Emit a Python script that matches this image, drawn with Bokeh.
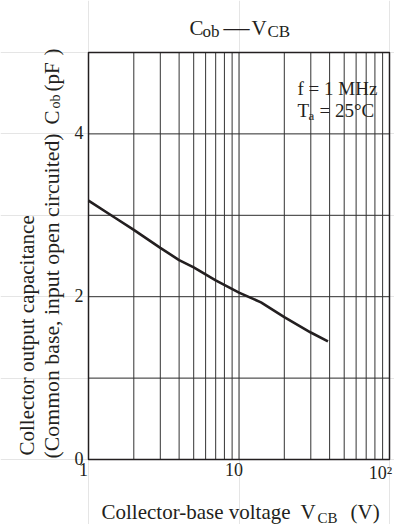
import math
from bokeh.plotting import figure
from bokeh.models import Label, Range1d
from bokeh.core.properties import value
from bokeh.embed import file_html
from bokeh.resources import INLINE

# ---- data ----
vcb = [1, 1.5, 2, 3, 4, 5, 7, 10, 14, 20, 30, 39]
cob = [3.18, 2.97, 2.82, 2.60, 2.45, 2.36, 2.20, 2.05, 1.93, 1.75, 1.56, 1.45]

x_lim = [1, 100]
y_lim = [0, 5]
x_ticks = [1, 10, 100]
x_tick_labels = ["1", "10", "10\u00b2"]
y_ticks = [0, 2, 4]
y_tick_labels = ["0", "2", "4"]
x_grid = [2, 3, 4, 5, 6, 7, 8, 9, 10, 20, 30, 40, 50, 60, 70, 80, 90]
y_grid = [1, 2, 3, 4]

FONT = "Liberation Serif"
INK = "#231f20"
W, H = 394, 524
# chart box inside the canvas (pixels)
CL, CR, CT, CB = 88, 389, 52, 459

dec = (CR - CL) / (math.log10(x_lim[1]) - math.log10(x_lim[0]))
x0 = 10 ** (math.log10(x_lim[0]) - CL / dec)
x1 = 10 ** (math.log10(x_lim[1]) + (W - CR) / dec)
ppu = (CB - CT) / (y_lim[1] - y_lim[0])
y0 = y_lim[0] - (H - CB) / ppu
y1 = y_lim[1] + CT / ppu

p = figure(width=W, height=H, title=None, x_axis_type="log",
           x_axis_location=None, y_axis_location=None,
           x_range=Range1d(x0, x1), y_range=Range1d(y0, y1),
           output_backend="svg", toolbar_location=None,
           min_border=0)
p.outline_line_color = None
p.background_fill_color = "white"
p.border_fill_color = "white"

# grid
p.segment(x0=x_grid, y0=[y_lim[0]] * len(x_grid), x1=x_grid, y1=[y_lim[1]] * len(x_grid),
          line_color="#333333", line_width=1)
p.segment(x0=[x_lim[0]] * len(y_grid), y0=y_grid, x1=[x_lim[1]] * len(y_grid), y1=y_grid,
          line_color="#333333", line_width=1)
# frame
p.quad(left=[x_lim[0]], right=[x_lim[1]], bottom=[y_lim[0]], top=[y_lim[1]],
       fill_color=None, line_color=INK, line_width=1.5)

# tick labels
p.text(x=x_ticks, y=[y_lim[0]] * len(x_ticks), text=x_tick_labels,
       x_offset=[-5, -5, -9], y_offset=3, text_align="center", text_baseline="top",
       text_font=value(FONT), text_font_size="18px", text_color=INK)
p.text(x=[x_lim[0]] * len(y_ticks), y=y_ticks, text=y_tick_labels,
       x_offset=-5, y_offset=-1, text_align="right", text_baseline="middle",
       text_font=value(FONT), text_font_size="18px", text_color=INK)

# curve
p.line(vcb, cob, line_color=INK, line_width=2.6)


def lab(text, px, py, size, angle=0.0):
    p.add_layout(Label(x=px, y=H - py, x_units="screen", y_units="screen",
                       text=text, text_font=FONT, text_font_size=f"{size}px",
                       text_color=INK, angle=angle, text_align="left",
                       text_baseline="alphabetic"))


# title  C_ob — V_CB
lab("C", 189, 27, 21)
lab("ob", 202, 31, 17)
lab("\u2014", 223, 27, 26)
lab("V", 251, 27, 21)
lab("CB", 267, 31, 17)

# conditions
lab("f = 1 MHz", 297, 88, 19)
lab("T", 297, 110, 19)
lab("a", 308, 115, 13)
lab("= 25\u00b0C", 319, 110, 19)

# y axis title (two lines, rotated)
r = math.pi / 2
lab("Collector output capacitance", 26, 455, 21, r)
lab("(Common base, input open circuited)", 51, 458, 21.8, r)
lab("C", 51, 124, 21, r)
lab("ob", 55, 108, 14, r)
lab("(pF", 51, 91, 21, r)
lab(")", 51, 55, 21, r)

# x axis title
lab("Collector-base voltage", 101, 511, 21)
lab("V", 300, 511, 21)
lab("CB", 317, 517, 15)
lab("(V)", 350, 511, 21)

open("out.html", "w").write(file_html(p, INLINE))
